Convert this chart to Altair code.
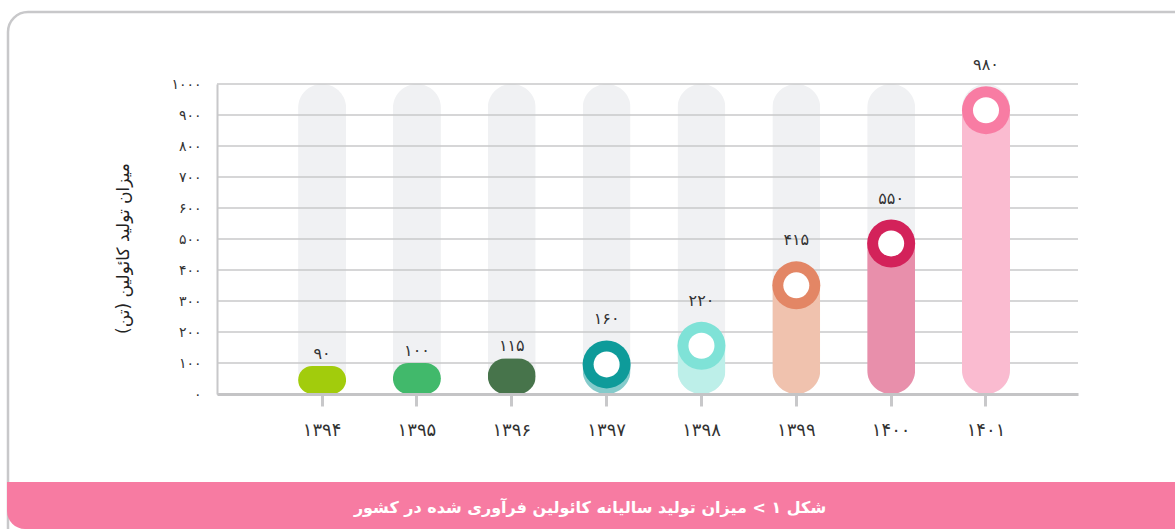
import altair as alt
import pandas as pd

# ---- data ----
years = ["۱۳۹۴", "۱۳۹۵", "۱۳۹۶", "۱۳۹۷", "۱۳۹۸", "۱۳۹۹", "۱۴۰۰", "۱۴۰۱"]
values = [90, 100, 115, 160, 220, 415, 550, 980]
value_labels = ["۹۰", "۱۰۰", "۱۱۵", "۱۶۰", "۲۲۰", "۴۱۵", "۵۵۰", "۹۸۰"]
bar_colors = ["#a2cc0c", "#41b96b", "#47744b", "#84cbcb", "#bdefe9", "#f0c2ae", "#e88fab", "#fabbd0"]
ring_colors = ["", "", "", "#0e9b9a", "#7fe2d7", "#e38665", "#d3225a", "#f87ca3"]
has_ring = [False, False, False, True, True, True, True, True]
y_ticks = [0, 100, 200, 300, 400, 500, 600, 700, 800, 900, 1000]
y_tick_labels = ["۰", "۱۰۰", "۲۰۰", "۳۰۰", "۴۰۰", "۵۰۰", "۶۰۰", "۷۰۰", "۸۰۰", "۹۰۰", "۱۰۰۰"]
y_max = 1000
y_title = "میزان تولید کائولین (تن)"
caption = "شکل ۱ > میزان تولید سالیانه کائولین فرآوری شده در کشور"

RLE, PDF = "\u202b", "\u202c"
FONT = "DejaVu Sans"

df = pd.DataFrame({
    "year": years,
    "value": values,
    "label": value_labels,
    "bar_color": bar_colors,
    "ring_color": ring_colors,
    "ring": has_ring,
    "track": [y_max] * len(years),
})
ticks_df = pd.DataFrame({"tick": y_ticks})
one = pd.DataFrame({"k": [0]})

W, H = 861, 310
PAD_L, PAD_T = 217, 84

xscale = alt.Scale(domain=years, paddingInner=0, paddingOuter=0.539, align=0.564)
yscale = alt.Scale(domain=[0, y_max], nice=False, zero=True)

label_expr = "[" + ",".join("'%s'" % s for s in y_tick_labels) + "][round(datum.value/100)]"

x_axis = alt.Axis(
    title=None, labelAngle=0, labelFont=FONT, labelFontSize=18, labelColor="#333333",
    tickSize=12, tickWidth=3, tickColor="#c8c8ca", domainColor="#c4c4c6", domainWidth=3,
    labelPadding=15, grid=False, zindex=1)
y_axis = alt.Axis(
    values=y_ticks, labelExpr=label_expr, grid=False, ticks=False, tickSize=0,
    domainColor="#c8c8ca", domainWidth=2, labelPadding=16,
    labelFont=FONT, labelFontSize=14, labelColor="#333333",
    title=RLE + y_title + PDF, titleFont=FONT, titleFontSize=17, titleFontWeight="normal",
    titleColor="#222222", titleAngle=270, titleX=123 - PAD_L, titleY=248 - PAD_T,
    titleAlign="center", titleBaseline="middle", zindex=1)


def X():
    return alt.X("year:N", scale=xscale, sort=years, axis=x_axis)


def Y(field):
    return alt.Y(field, scale=yscale, axis=y_axis)


# decorative frame and caption banner
frame = alt.Chart(one).mark_rect(
    fillOpacity=0, stroke="#c8c8ca", strokeWidth=2.5, cornerRadius=20
).encode(
    x=alt.value(8 - PAD_L), x2=alt.value(1195 - PAD_L),
    y=alt.value(12 - PAD_T), y2=alt.value(560 - PAD_T),
)
banner = alt.Chart(one).mark_rect(
    fill="#f77ba2", cornerRadiusBottomLeft=18
).encode(
    x=alt.value(7 - PAD_L), x2=alt.value(1195 - PAD_L),
    y=alt.value(482 - PAD_T), y2=alt.value(529 - PAD_T),
)
caption_text = alt.Chart(one).mark_text(
    text=RLE + caption + PDF, font=FONT, fontSize=16, fontWeight="bold", color="white",
    align="center", baseline="middle"
).encode(x=alt.value(590 - PAD_L), y=alt.value(508 - PAD_T))

track = alt.Chart(df).mark_bar(size=48, cornerRadius=24, color="#f0f1f3").encode(
    x=X(), y=Y("track:Q"),
)

grid = alt.Chart(ticks_df).mark_rule(color="#c8c8ca", strokeWidth=1.6).encode(
    y=Y("tick:Q"),
)

bars = alt.Chart(df).mark_bar(size=48, cornerRadius=24).encode(
    x=X(), y=Y("value:Q"),
    color=alt.Color("bar_color:N", scale=None),
)

ring_df = alt.Chart(df).transform_filter("datum.ring")
ring_outer = ring_df.mark_point(shape="circle", filled=True, size=48 * 48, opacity=1, yOffset=20).encode(
    x=X(), y=Y("value:Q"),
    color=alt.Color("ring_color:N", scale=None),
)
ring_inner = ring_df.mark_point(shape="circle", filled=True, size=26 * 26, opacity=1, yOffset=20,
                                color="white").encode(
    x=X(), y=Y("value:Q"),
)

labels_ring = ring_df.mark_text(font=FONT, fontSize=16, color="#333333", dy=-25,
                                baseline="middle").encode(
    x=X(), y=Y("value:Q"), text="label:N",
)
labels_plain = alt.Chart(df).transform_filter("!datum.ring").mark_text(
    font=FONT, fontSize=16, color="#333333", dy=-12, baseline="middle").encode(
    x=X(), y=Y("value:Q"), text="label:N",
)

chart = alt.layer(
    frame, banner, caption_text, track, grid, bars, ring_outer, ring_inner, labels_ring, labels_plain
).properties(
    width=W, height=H,
    autosize=alt.AutoSizeParams(type="none"),
    padding={"left": PAD_L, "top": PAD_T, "right": 1175 - PAD_L - W, "bottom": 529 - PAD_T - H},
    background="white",
).configure_view(stroke=None)

chart.save("out.html", embed_options={"renderer": "svg", "actions": False})
